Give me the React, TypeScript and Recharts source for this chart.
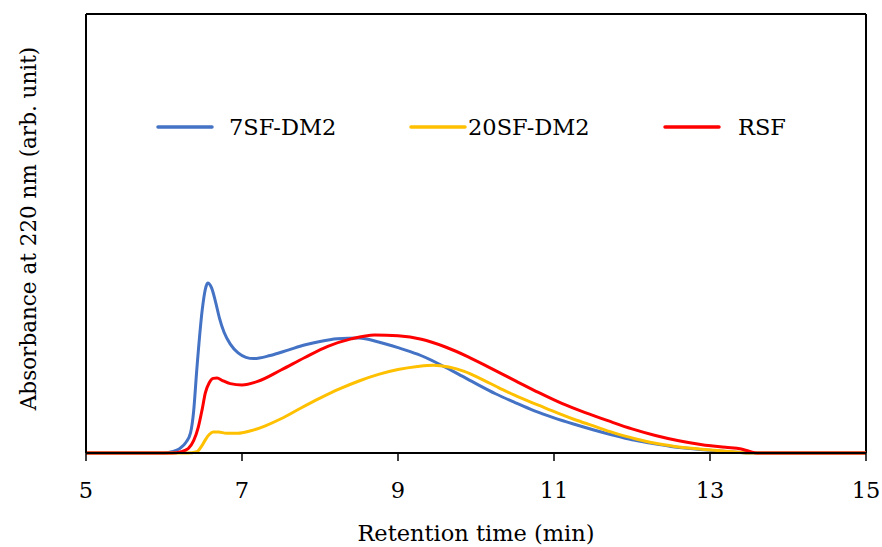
import React from 'react';
import { LineChart, Line, XAxis, YAxis, ReferenceLine, Customized } from 'recharts';

// Retention times (min) and absorbance (arb. unit) for each sample
const blueTime = [5, 6.0, 6.1, 6.2, 6.28, 6.34, 6.38, 6.42, 6.49, 6.53, 6.56, 6.61, 6.66, 6.71, 6.77, 6.85, 6.95, 7.05, 7.15, 7.36, 7.6, 7.8, 8.0, 8.22, 8.5, 8.75, 9.0, 9.25, 9.5, 9.75, 10.0, 10.25, 10.5, 10.75, 11.0, 11.25, 11.5, 11.75, 12.0, 12.25, 12.5, 12.75, 13.0, 13.25, 13.5, 15];
const blueAbs = [0, 0, 0.3, 1.0, 2.4, 4.6, 9.5, 18.9, 32.6, 37.3, 38.7, 37.6, 34.5, 30.8, 27.5, 24.8, 22.8, 21.8, 21.5, 22.2, 23.5, 24.6, 25.4, 26.0, 26.2, 25.3, 24.0, 22.5, 20.5, 18.2, 15.8, 13.5, 11.5, 9.6, 8.0, 6.6, 5.3, 4.1, 3.0, 2.2, 1.5, 1.0, 0.6, 0.3, 0, 0];

const yellowTime = [5, 6.3, 6.42, 6.48, 6.53, 6.58, 6.63, 6.7, 6.8, 6.95, 7.1, 7.3, 7.5, 7.75, 8.0, 8.25, 8.5, 8.75, 9.0, 9.25, 9.45, 9.65, 9.85, 10.05, 10.3, 10.55, 10.8, 11.05, 11.3, 11.55, 11.8, 12.05, 12.3, 12.55, 12.8, 13.05, 13.3, 13.47, 15];
const yellowAbs = [0, 0, 0.3, 1.5, 3.0, 4.2, 4.8, 4.8, 4.5, 4.5, 5.0, 6.2, 7.8, 10.2, 12.5, 14.6, 16.4, 17.9, 19.0, 19.7, 20.0, 19.6, 18.6, 17.0, 14.8, 12.7, 10.9, 9.1, 7.4, 5.9, 4.4, 3.2, 2.2, 1.5, 1.0, 0.6, 0.3, 0, 0];

const redTime = [5, 6.1, 6.22, 6.31, 6.38, 6.44, 6.49, 6.53, 6.58, 6.63, 6.68, 6.75, 6.85, 7.0, 7.2, 7.5, 7.8, 8.1, 8.4, 8.7, 9.0, 9.3, 9.6, 9.9, 10.2, 10.5, 10.8, 11.1, 11.4, 11.7, 12.0, 12.3, 12.6, 12.9, 13.2, 13.4, 13.5, 13.6, 15];
const redAbs = [0, 0, 0.3, 1.0, 2.8, 5.9, 10.0, 13.7, 16.0, 17.0, 17.1, 16.5, 15.8, 15.5, 16.3, 18.9, 21.7, 24.3, 26.0, 26.9, 26.7, 25.9, 24.2, 21.9, 19.2, 16.5, 13.8, 11.3, 9.2, 7.3, 5.5, 4.0, 2.8, 1.9, 1.3, 0.9, 0.4, 0, 0];

const xTicks = [5, 7, 9, 11, 13, 15];
const seriesNames = ['7SF-DM2', '20SF-DM2', 'RSF'];
const seriesColors = ['#4472C4', '#FFC000', '#FF0000'];

const toPoints = (t: number[], a: number[]) => t.map((x, i) => ({ t: x, v: a[i] }));

const series = [
  toPoints(blueTime, blueAbs),
  toPoints(yellowTime, yellowAbs),
  toPoints(redTime, redAbs),
];

const FONT = '"DejaVu Serif", serif';

// Legend drawn inside the plot frame
const legendLineX = [158, 411, 665];
const legendTextX = [229, 468, 738];
const LegendRow = () => (
  <g>
    {seriesNames.map((name, i) => (
      <g key={name}>
        <line x1={legendLineX[i]} x2={legendLineX[i] + 54} y1={127} y2={127} stroke={seriesColors[i]} strokeWidth={3.5} strokeLinecap="round" />
        <text x={legendTextX[i]} y={135} fontFamily={FONT} fontSize={22.5} fill="#000">{name}</text>
      </g>
    ))}
  </g>
);

const YLabel = (props: any) => {
  const vb = props.viewBox || {};
  const cy = (vb.y ?? 14) + (vb.height ?? 439) / 2 - 5;
  const cx = 28;
  return (
    <text x={cx} y={cy} transform={`rotate(-90, ${cx}, ${cy})`} textAnchor="middle" dominantBaseline="central" fontFamily={FONT} fontSize={21.5} fill="#000">
      Absorbance at 220 nm (arb. unit)
    </text>
  );
};

export default function App() {
  return (
    <div style={{ position: 'absolute', left: 0, top: 0, width: 882, height: 547, background: '#fff' }}>
      <LineChart width={882} height={547} margin={{ top: 14, right: 16, left: 0, bottom: 0 }}>
        <XAxis
          dataKey="t"
          type="number"
          domain={[5, 15]}
          ticks={xTicks}
          allowDuplicatedCategory={false}
          height={94}
          tickSize={8}
          tickMargin={21}
          axisLine={{ stroke: '#000', strokeWidth: 2 }}
          tickLine={{ stroke: '#000', strokeWidth: 1.5 }}
          tick={{ fill: '#000', fontFamily: FONT, fontSize: 22.5 }}
          label={{ value: 'Retention time (min)', position: 'insideBottom', offset: 6, style: { fill: '#000', fontFamily: FONT, fontSize: 22.5 } }}
        />
        <YAxis
          type="number"
          domain={[0, 100]}
          width={86}
          tick={false}
          tickLine={false}
          axisLine={{ stroke: '#000', strokeWidth: 2 }}
          label={<YLabel />}
        />
        {/* close the plot frame on the top and right */}
        <ReferenceLine y={100} stroke="#000" strokeWidth={2} />
        <ReferenceLine x={15} stroke="#000" strokeWidth={2} />
        {series.map((pts, i) => (
          <Line
            key={seriesNames[i]}
            data={pts}
            dataKey="v"
            name={seriesNames[i]}
            type="monotone"
            stroke={seriesColors[i]}
            strokeWidth={3}
            dot={false}
            activeDot={false}
            isAnimationActive={false}
          />
        ))}
        <Customized component={LegendRow} />
      </LineChart>
    </div>
  );
}
